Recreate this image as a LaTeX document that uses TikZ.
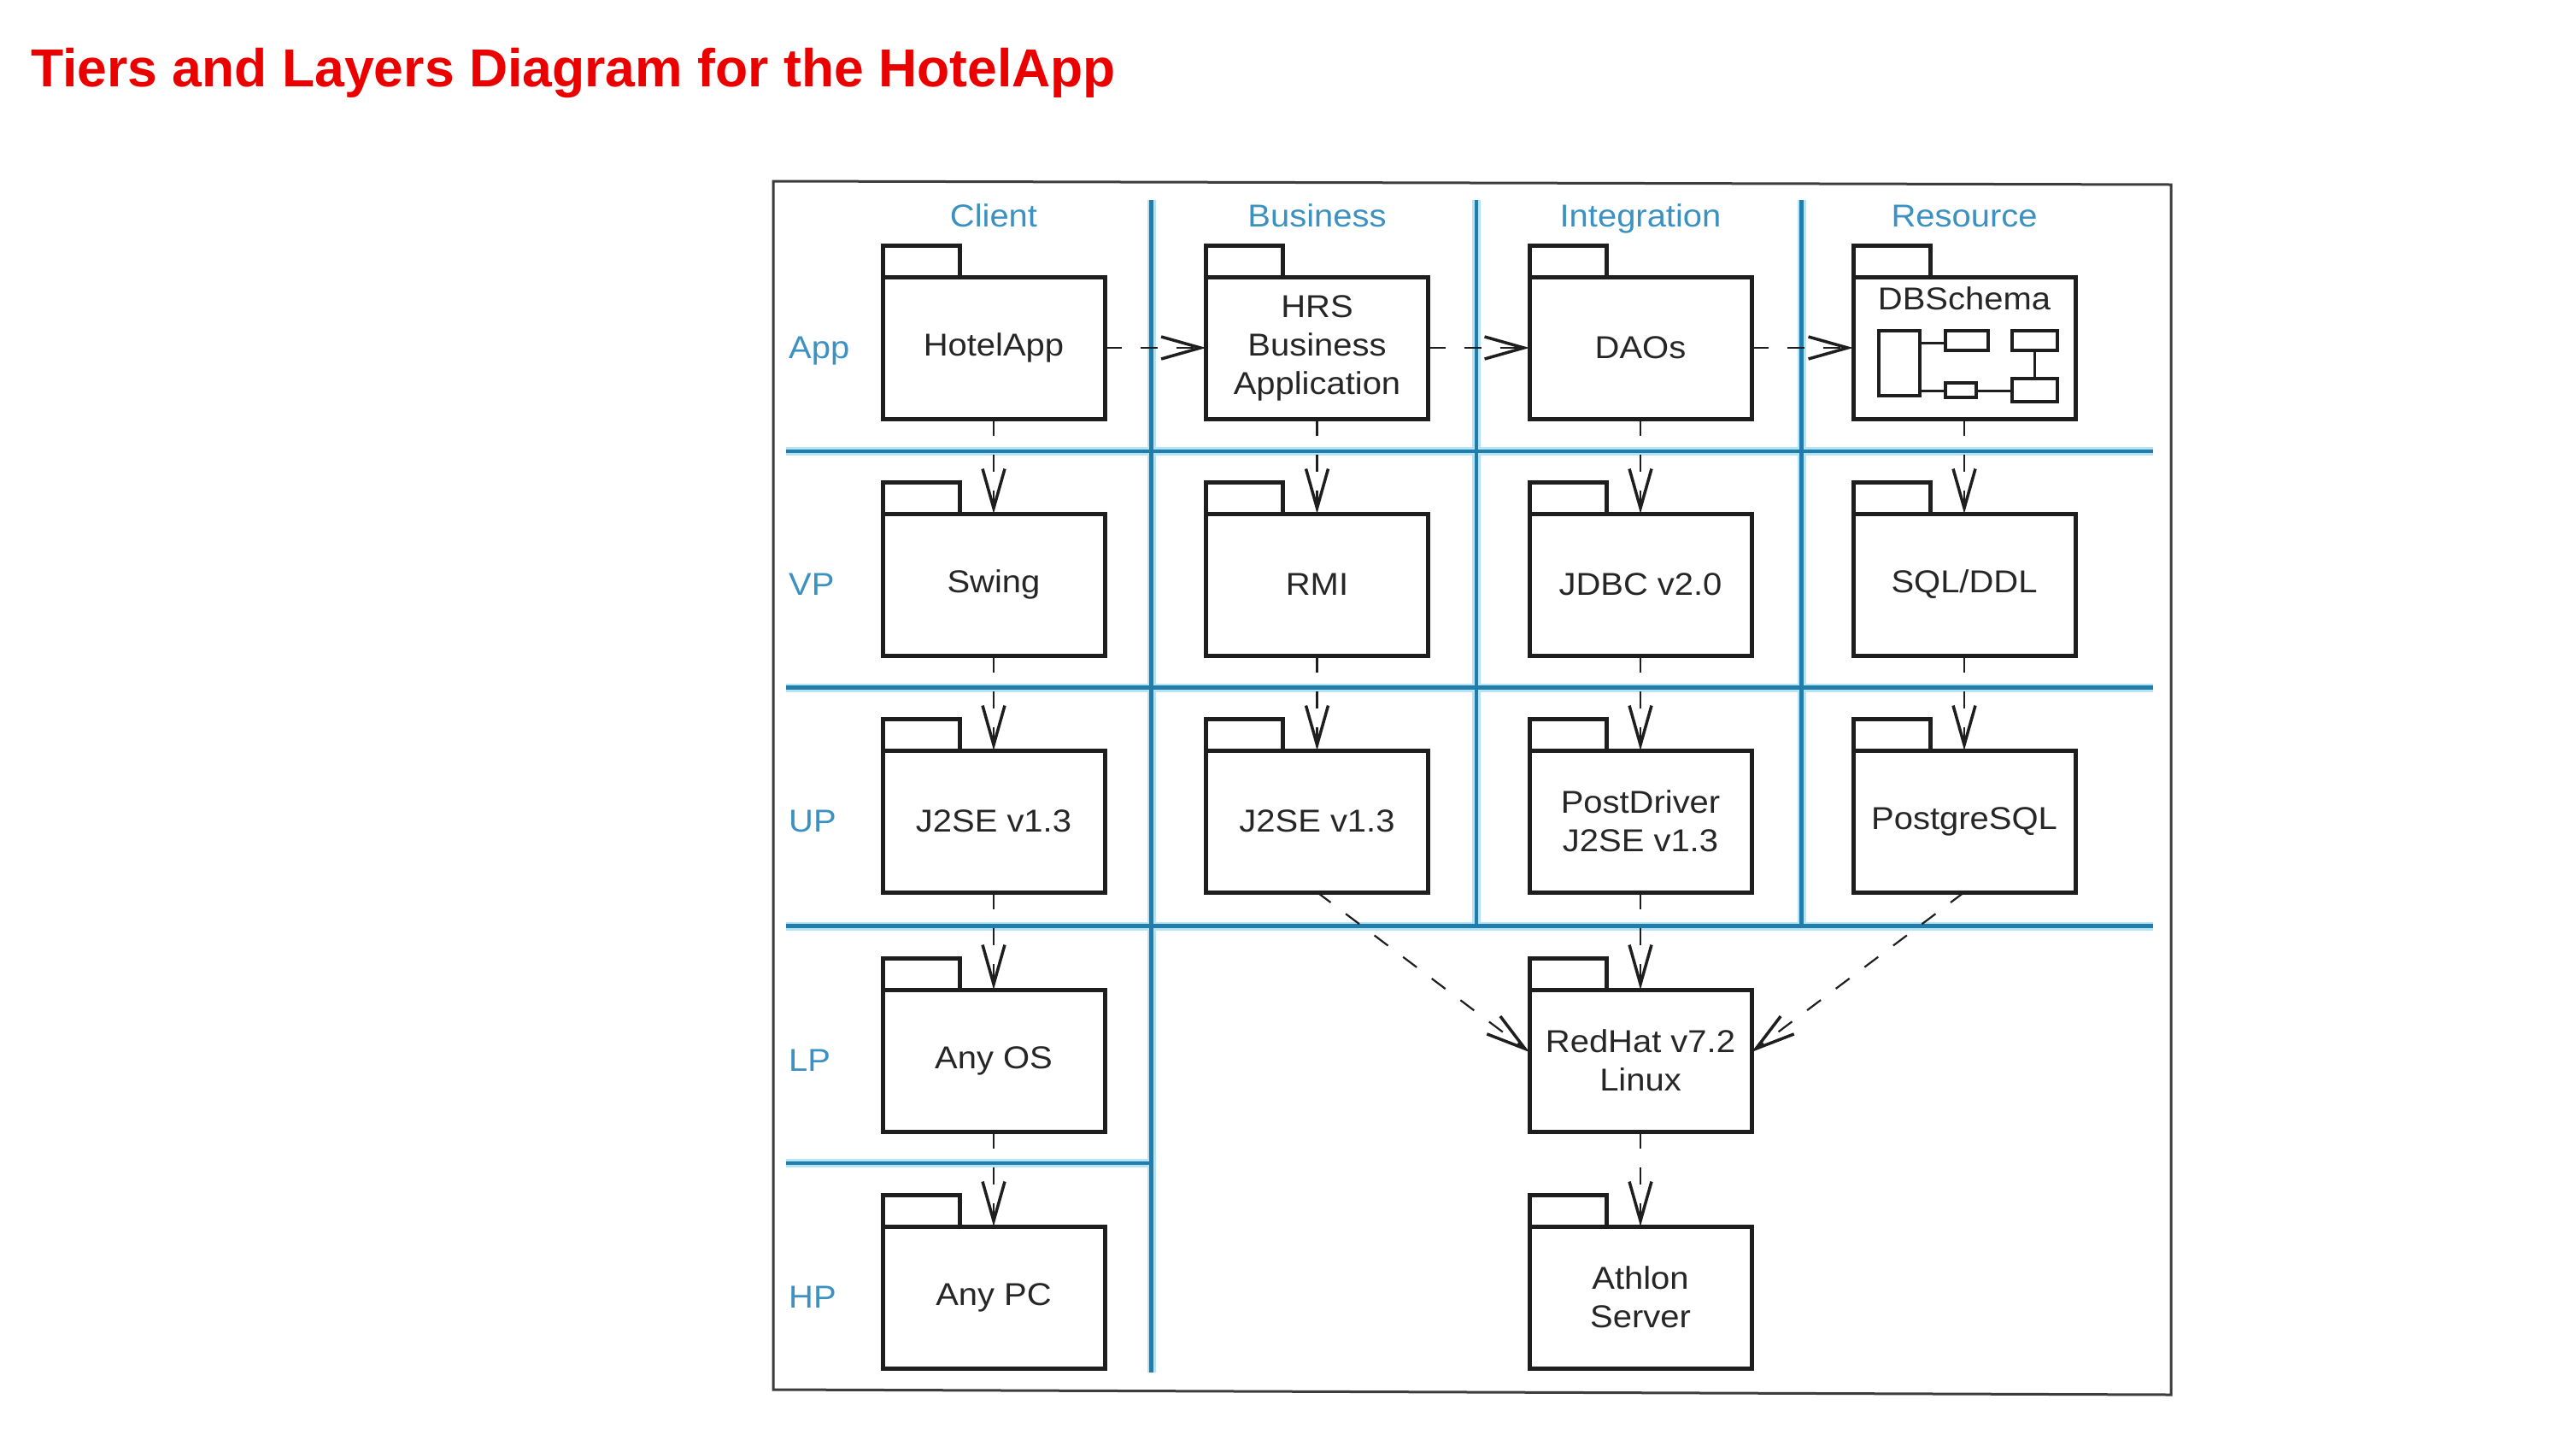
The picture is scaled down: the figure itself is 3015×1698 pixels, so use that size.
\documentclass[tikz,border=0pt]{standalone}
\usepackage{fontspec}
\setmainfont{Liberation Sans}
\newfontfamily\boxfam{Liberation Sans}[FakeStretch=1.08]
\usetikzlibrary{arrows.meta,calc}
\definecolor{tierblue}{RGB}{35,125,170}
\definecolor{tierhalo}{RGB}{180,228,245}
\definecolor{labelblue}{RGB}{60,145,195}
\definecolor{boxline}{RGB}{30,30,30}
\definecolor{titlered}{RGB}{235,0,0}
\definecolor{framegray}{RGB}{60,60,60}
\tikzset{
  pkg/.style={draw=boxline, line width=5pt, fill=white, minimum width=260pt,
    minimum height=166pt, inner sep=0pt, outer sep=0pt, align=center,
    font=\boxfam\fontsize{37}{45}\selectfont, text=black!85},
  pkgtab/.style={draw=boxline, line width=5pt, line join=miter},
  minibox/.style={draw=boxline, line width=3.5pt, fill=white},
  minilink/.style={draw=boxline, line width=3pt},
  dep/.style={draw=boxline, line width=2.2pt, dash pattern=on 20pt off 22pt,
    -{Straight Barb[length=46pt,width=26pt,line width=3.5pt]}},
  tierhalo/.style={draw=tierhalo, line width=10pt},
  tiercore/.style={draw=tierblue, line width=4.5pt},
  rowlabel/.style={anchor=base west, text=labelblue, inner sep=0pt,
    font=\boxfam\fontsize{37}{45}\selectfont},
  collabel/.style={anchor=base, text=labelblue, inner sep=0pt,
    font=\boxfam\fontsize{37}{45}\selectfont},
}
\newcommand\pkgtabfor[1]{\draw[pkgtab] (#1.north west) -- ++(0,-37) -- ++(90,0) -- ++(0,37);}
\begin{document}
\begin{tikzpicture}[x=1pt,y=-1pt]
\fill[white] (0,0) rectangle (3015,1698);
\useasboundingbox (0,0) rectangle (3015,1698);

% title
\node[anchor=base west, text=titlered, inner sep=0pt,
  font=\bfseries\fontsize{62.5}{70}\selectfont] (title) at (36,101)
  {Tiers and Layers Diagram for the HotelApp};

% frame
\draw[framegray, line width=3pt] (905,212) -- (2541,216) -- (2541,1632) -- (905,1626) -- cycle;

% tier / layer lines
\foreach \y in {528,804.5,1083.5} {\draw[tierhalo] (920,\y) -- (2520,\y);}
\draw[tierhalo] (920,1361) -- (1347.5,1361);
\draw[tierhalo] (1347.5,234) -- (1347.5,1606);
\draw[tierhalo] (1728,234) -- (1728,1083.5);
\draw[tierhalo] (2108.5,234) -- (2108.5,1083.5);
\foreach \y in {528,804.5,1083.5} {\draw[tiercore] (920,\y) -- (2520,\y);}
\draw[tiercore] (920,1361) -- (1347.5,1361);
\draw[tiercore] (1347.5,234) -- (1347.5,1606);
\draw[tiercore] (1728,234) -- (1728,1083.5);
\draw[tiercore] (2108.5,234) -- (2108.5,1083.5);

% column labels
\node[collabel] (cClient) at (1163,265) {Client};
\node[collabel] (cBusiness) at (1541.5,265) {Business};
\node[collabel] (cIntegration) at (1920,265) {Integration};
\node[collabel] (cResource) at (2299,265) {Resource};

% row labels
\node[rowlabel] (rApp) at (923,419) {App};
\node[rowlabel] (rVP) at (923,696) {VP};
\node[rowlabel] (rUP) at (923,973) {UP};
\node[rowlabel] (rLP) at (923,1253) {LP};
\node[rowlabel] (rHP) at (923,1530) {HP};

% packages: App row
\node[pkg] (hotel) at (1163,407) {HotelApp};
\node[pkg] (hrs) at (1541.5,407) {HRS\\Business\\Application};
\node[pkg] (daos) at (1920,407) {DAOs};
\node[pkg] (dbs) at (2299,407) {};
% VP row
\node[pkg] (swing) at (1163,684) {Swing};
\node[pkg] (rmi) at (1541.5,684) {RMI};
\node[pkg] (jdbc) at (1920,684) {JDBC v2.0};
\node[pkg] (sql) at (2299,684) {SQL/DDL};
% UP row
\node[pkg] (ja) at (1163,961) {J2SE v1.3};
\node[pkg] (jb) at (1541.5,961) {J2SE v1.3};
\node[pkg] (pd) at (1920,961) {PostDriver\\J2SE v1.3};
\node[pkg] (pg) at (2299,961) {PostgreSQL};
% LP row
\node[pkg] (anyos) at (1163,1241) {Any OS};
\node[pkg] (redhat) at (1920,1241) {RedHat v7.2\\Linux};
% HP row
\node[pkg] (anypc) at (1163,1518) {Any PC};
\node[pkg] (athlon) at (1920,1518) {Athlon\\Server};

\foreach \n in {hotel,hrs,daos,dbs,swing,rmi,jdbc,sql,ja,jb,pd,pg,anyos,redhat,anypc,athlon} {\pkgtabfor{\n}}

% DBSchema contents
\node[anchor=base, inner sep=0pt, text=black!85, font=\boxfam\fontsize{37}{45}\selectfont]
  (dbst) at (2299,362) {DBSchema};
\draw[minilink] ($(dbs.center)+(-52,-6)$) -- ($(dbs.center)+(-22,-6)$);
\draw[minilink] ($(dbs.center)+(-52,50)$) -- ($(dbs.center)+(56,50)$);
\draw[minilink] ($(dbs.center)+(82,3)$) -- ($(dbs.center)+(82,36)$);
\draw[minibox] ($(dbs.center)+(-100,-20)$) rectangle ($(dbs.center)+(-52,56)$);
\draw[minibox] ($(dbs.center)+(-22,-20)$) rectangle ($(dbs.center)+(28,3)$);
\draw[minibox] ($(dbs.center)+(56,-20)$) rectangle ($(dbs.center)+(109,3)$);
\draw[minibox] ($(dbs.center)+(-22,41)$) rectangle ($(dbs.center)+(14,58)$);
\draw[minibox] ($(dbs.center)+(56,36)$) rectangle ($(dbs.center)+(109,63)$);

% dependencies
\draw[dep] (hotel.east) -- (hrs.west);
\draw[dep] (hrs.east) -- (daos.west);
\draw[dep] (daos.east) -- (dbs.west);

\draw[dep] (hotel.south) -- (swing.north);
\draw[dep] (hrs.south) -- (rmi.north);
\draw[dep] (daos.south) -- (jdbc.north);
\draw[dep] (dbs.south) -- (sql.north);

\draw[dep] (swing.south) -- (ja.north);
\draw[dep] (rmi.south) -- (jb.north);
\draw[dep] (jdbc.south) -- (pd.north);
\draw[dep] (sql.south) -- (pg.north);

\draw[dep] (ja.south) -- (anyos.north);
\draw[dep] (anyos.south) -- (anypc.north);
\draw[dep] (pd.south) -- (redhat.north);
\draw[dep] (redhat.south) -- (athlon.north);
\draw[dep] (jb.south) -- ($(redhat.west)+(0,-10)$);
\draw[dep] (pg.south) -- ($(redhat.east)+(0,-10)$);
\end{tikzpicture}
\end{document}
